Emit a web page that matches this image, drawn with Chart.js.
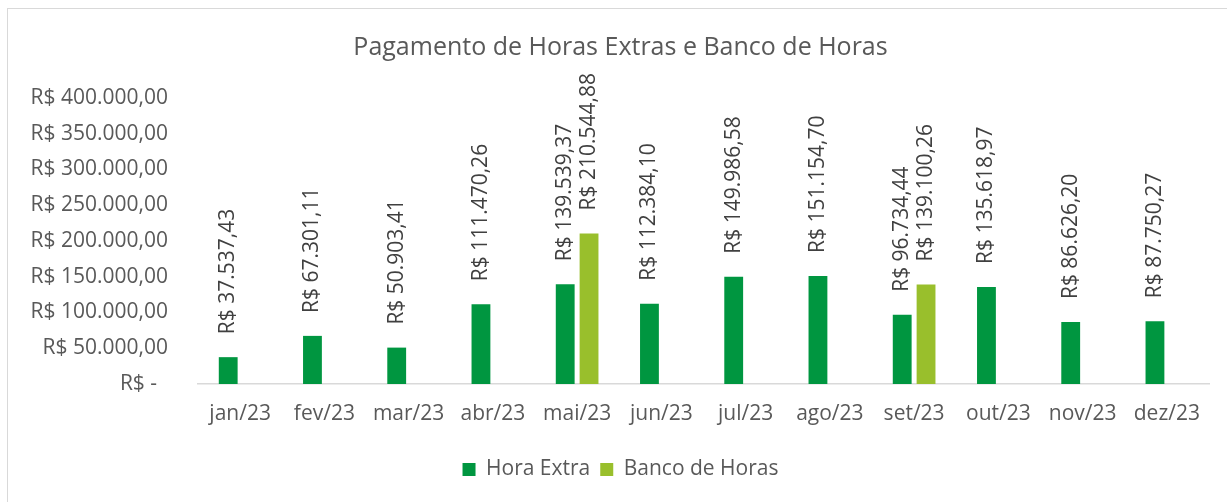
<!DOCTYPE html>
<html>
<head>
<meta charset="utf-8">
<script src="https://cdn.jsdelivr.net/npm/chart.js@4"></script>
<style>
    body { margin: 0; background: #fff; overflow: hidden; }
    #frame {
        position: absolute; left: 7px; top: 8px;
        width: 1260px; height: 540px;
        border: 1.5px solid #d9d9d9;
    }
    #chart { position: absolute; left: 0; top: 0; }
</style>
</head>
<body>
<div id="frame"></div>
<canvas id="chart" width="1227" height="502"></canvas>
<script>
// Chart data
const months = ['jan/23', 'fev/23', 'mar/23', 'abr/23', 'mai/23', 'jun/23',
                'jul/23', 'ago/23', 'set/23', 'out/23', 'nov/23', 'dez/23'];
const horaExtra = [37537.43, 67301.11, 50903.41, 111470.26, 139539.37, 112384.10,
                   149986.58, 151154.70, 96734.44, 135618.97, 86626.20, 87750.27];
const bancoHoras = [null, null, null, null, 210544.88, null,
                    null, null, 139100.26, null, null, null];
const seriesNames = ['Hora Extra', 'Banco de Horas'];
const chartTitle = 'Pagamento de Horas Extras e Banco de Horas';

const FONT = '"Open Sans", sans-serif';

// format like Excel's "R$ 1.234,56"
function formatBRL(v) {
    if (v === 0) return 'R$ -  ';
    const parts = v.toFixed(2).split('.');
    const intPart = parts[0].replace(/\B(?=(\d{3})+(?!\d))/g, '.');
    return 'R$ ' + intPart + ',' + parts[1];
}

// Draw value labels rotated above each bar
const barLabels = {
    id: 'barLabels',
    afterDatasetsDraw(chart) {
        const ctx = chart.ctx;
        ctx.save();
        ctx.font = '21px ' + FONT;
        ctx.fillStyle = '#404040';
        ctx.textAlign = 'left';
        ctx.textBaseline = 'middle';
        chart.data.datasets.forEach((ds, i) => {
            chart.getDatasetMeta(i).data.forEach((bar, j) => {
                const v = ds.data[j];
                if (v == null) return;
                ctx.save();
                ctx.translate(bar.x, bar.y - 23);
                ctx.rotate(-Math.PI / 2);
                ctx.fillText(formatBRL(v), 0, 0);
                ctx.restore();
            });
        });
        ctx.restore();
    }
};

const ctx = document.getElementById('chart').getContext('2d');
new Chart(ctx, {
    type: 'bar',
    data: {
        labels: months,
        datasets: [{
            label: seriesNames[0],
            data: horaExtra,
            backgroundColor: '#009640'
        }, {
            label: seriesNames[1],
            data: bancoHoras,
            backgroundColor: '#99bf2c'
        }]
    },
    options: {
        responsive: false,
        animation: false,
        categoryPercentage: 0.566,
        barPercentage: 0.79,
        layout: {
            padding: { top: 33, left: 32, right: 18, bottom: 12 }
        },
        plugins: {
            title: {
                display: true,
                text: chartTitle,
                color: '#595959',
                font: { family: FONT, size: 25, weight: 'normal' },
                padding: { top: 0, bottom: 35 }
            },
            legend: {
                position: 'bottom',
                labels: {
                    color: '#595959',
                    font: { family: FONT, size: 21 },
                    boxWidth: 13,
                    boxHeight: 13,
                    padding: 10
                }
            },
            tooltip: { enabled: false }
        },
        scales: {
            x: {
                grid: { display: false, drawTicks: false },
                border: { display: true, color: '#d9d9d9', width: 1.5 },
                ticks: {
                    color: '#595959',
                    font: { family: FONT, size: 21 },
                    padding: 17,
                    maxRotation: 0
                },
                afterFit(scale) { scale.height = 65; }
            },
            y: {
                min: 0,
                max: 400000,
                grid: { display: false, drawTicks: false },
                border: { display: false },
                ticks: {
                    stepSize: 50000,
                    color: '#595959',
                    font: { family: FONT, size: 21 },
                    padding: 30,
                    callback: v => formatBRL(v)
                },
                afterFit(scale) { scale.width = 166; }
            }
        }
    },
    plugins: [barLabels]
});
</script>
</body>
</html>
